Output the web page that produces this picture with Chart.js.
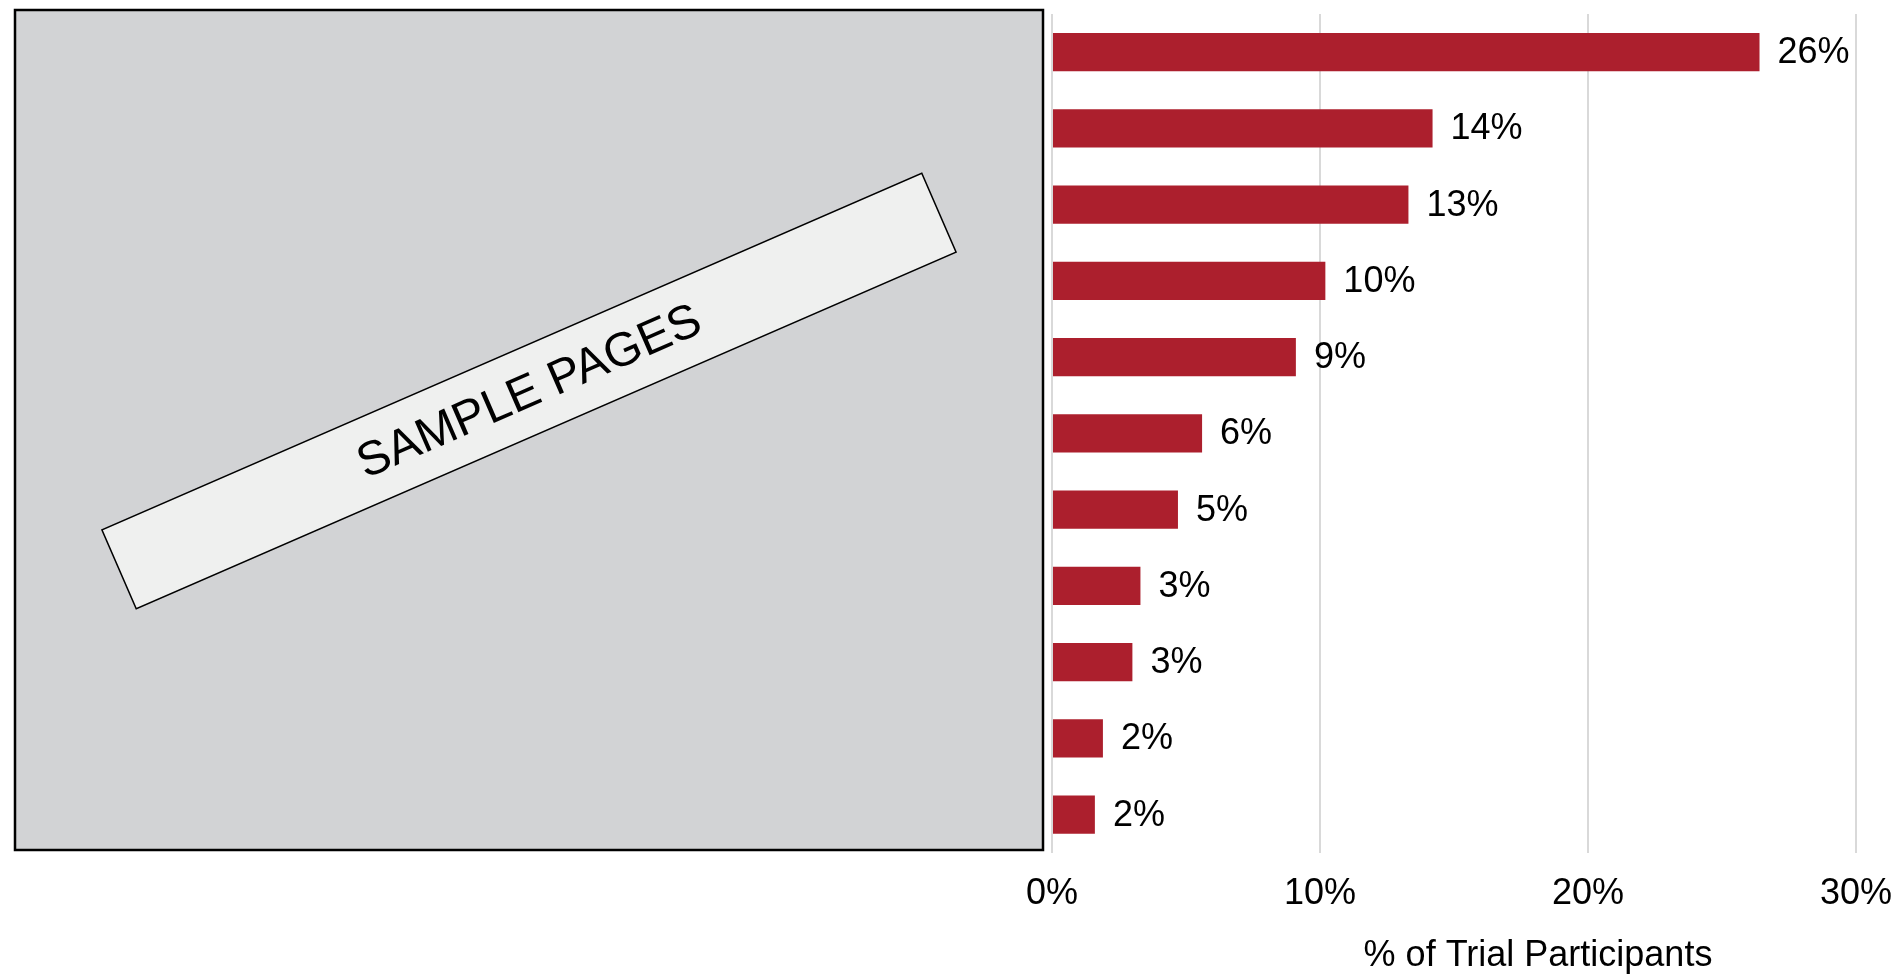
<!DOCTYPE html>
<html lang="en">

<head>
  <meta charset="UTF-8" />
  <script src="https://cdn.jsdelivr.net/npm/chart.js@4.4.1/dist/chart.umd.min.js"></script>
  <title>% of Trial Participants</title>
  <style>
    body { margin: 0; background: #ffffff; }
    #grafico { display: block; }
  </style>
</head>

<body>
  <canvas id="grafico" width="1896" height="976"></canvas>
</body>

</html>

<script>
  // category names are covered by the sample box in the original
  const categories = ["Item 1", "Item 2", "Item 3", "Item 4", "Item 5", "Item 6",
    "Item 7", "Item 8", "Item 9", "Item 10", "Item 11"];
  const shares = [26.4, 14.2, 13.3, 10.2, 9.1, 5.6, 4.7, 3.3, 3.0, 1.9, 1.6];
  const xTicks = [0, 10, 20, 30];
  const axisTitle = "% of Trial Participants";
  const stampText = "SAMPLE PAGES";

  const fonte = "'Liberation Sans', Arial, sans-serif";
  const vermelho = "#AC1F2D";

  // labels at the end of every bar
  const valueLabels = {
    id: "valueLabels",
    afterDatasetsDraw(chart) {
      var ctx = chart.ctx;
      var meta = chart.getDatasetMeta(0);
      ctx.save();
      ctx.font = "36px " + fonte;
      ctx.fillStyle = "#000000";
      ctx.textAlign = "left";
      ctx.textBaseline = "middle";
      meta.data.forEach(function (bar, i) {
        ctx.fillText(Math.round(shares[i]) + "%", bar.x + 18, bar.y + 1);
      });
      ctx.restore();
    }
  };

  // axis title sits right of centre in the original, so it is drawn by hand
  const axisTitlePlugin = {
    id: "axisTitlePlugin",
    afterDraw(chart) {
      var ctx = chart.ctx;
      ctx.save();
      ctx.font = "36px " + fonte;
      ctx.fillStyle = "#000000";
      ctx.textAlign = "center";
      ctx.textBaseline = "alphabetic";
      ctx.fillText(axisTitle, 1538, 966);
      ctx.restore();
    }
  };

  // grey box with the rotated "sample pages" banner over the category labels
  const sampleBox = {
    id: "sampleBox",
    afterDraw(chart) {
      var ctx = chart.ctx;
      ctx.save();
      ctx.fillStyle = "#D2D3D5";
      ctx.fillRect(15, 10, 1028, 840);
      ctx.lineWidth = 2.5;
      ctx.strokeStyle = "#000000";
      ctx.strokeRect(15, 10, 1028, 840);

      ctx.translate(529, 391);
      ctx.rotate(-23.5 * Math.PI / 180);
      ctx.fillStyle = "#EFF0EF";
      ctx.fillRect(-447, -43, 894, 86);
      ctx.lineWidth = 1.5;
      ctx.strokeRect(-447, -43, 894, 86);
      ctx.fillStyle = "#000000";
      ctx.font = "48px " + fonte;
      ctx.textAlign = "center";
      ctx.textBaseline = "middle";
      ctx.fillText(stampText, 0, 2);
      ctx.restore();
    }
  };

  const config = {
    type: "bar",
    data: {
      labels: categories,
      datasets: [{
        data: shares,
        backgroundColor: vermelho,
        borderWidth: 0,
        categoryPercentage: 1,
        barPercentage: 0.5
      }]
    },
    options: {
      indexAxis: "y",
      responsive: false,
      animation: false,
      layout: { padding: { left: 1052, right: 40, top: 14, bottom: 60 } },
      plugins: {
        legend: { display: false },
        tooltip: { enabled: false }
      },
      scales: {
        y: { display: false },
        x: {
          min: 0,
          max: 30,
          afterBuildTicks: function (axis) {
            axis.ticks = xTicks.map(function (v) { return { value: v }; });
          },
          grid: {
            color: "#D9D9D9",
            lineWidth: 2,
            drawTicks: true,
            tickLength: 20,
            tickColor: "rgba(0,0,0,0)"
          },
          border: { display: false },
          ticks: {
            padding: 0,
            color: "#000000",
            font: { family: fonte, size: 36 },
            callback: function (v) { return v + "%"; }
          }
        }
      }
    },
    plugins: [valueLabels, axisTitlePlugin, sampleBox]
  };

  new Chart(document.getElementById("grafico"), config);
</script>
